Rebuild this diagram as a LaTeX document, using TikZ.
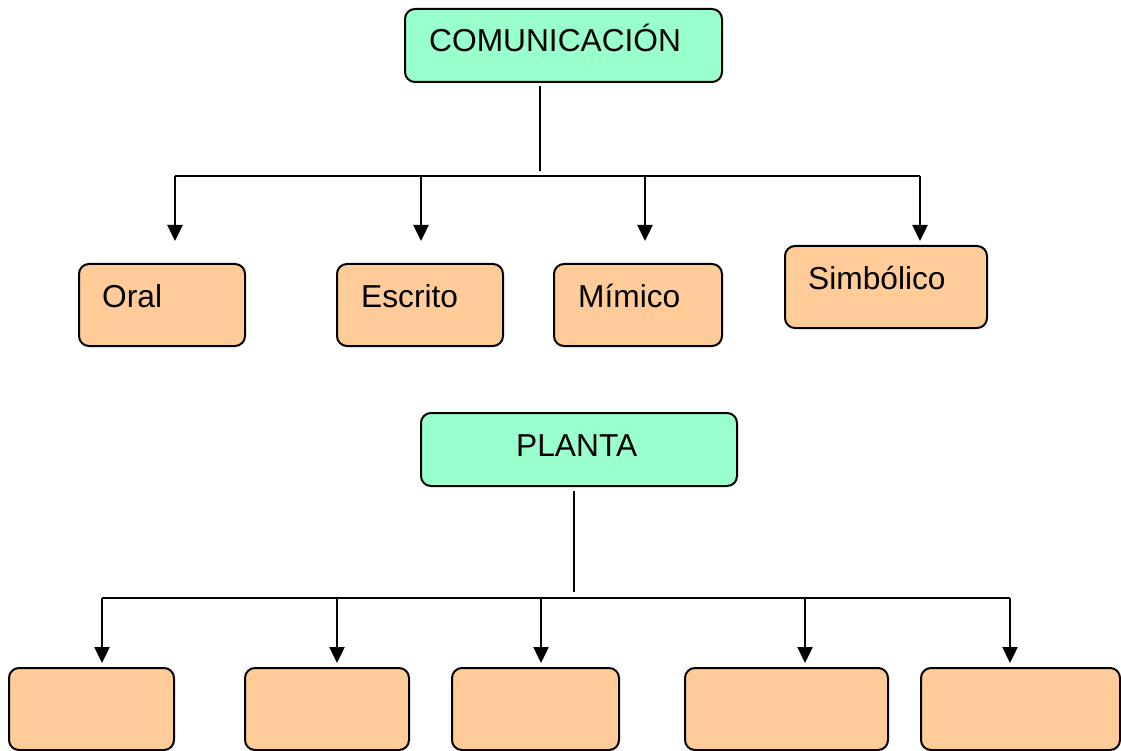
\documentclass[tikz,border=0pt]{standalone}
\usepackage{fontspec}
\setmainfont{Liberation Sans}
\usetikzlibrary{arrows.meta}
\definecolor{verde}{HTML}{99FFCC}
\definecolor{naranja}{HTML}{FFCC99}
\begin{document}
\begin{tikzpicture}[x=1pt,y=-1pt,
    raiz/.style={draw,line width=2pt,fill=verde,rounded corners=10pt,minimum height=73pt},
    hoja/.style={draw,line width=2pt,fill=naranja,rounded corners=10pt,minimum height=82pt},
    rotulo/.style={anchor=base west,inner sep=0pt,font=\fontsize{31.7}{36}\selectfont},
    tallo/.style={line width=1.6pt},
    barra/.style={line width=2.4pt},
    flecha/.style={line width=2.4pt,-{Triangle[width=15pt,length=16pt]}}]
  \useasboundingbox (0,0) rectangle (1121,751);
  % comunicacion
  \node[raiz,minimum width=317] (com) at (563.5,45.5) {};
  \node[rotulo] (t-com) at (429,52) {COMUNICACIÓN};
  \node[hoja,minimum width=166] (oral) at (162,305) {};
  \node[hoja,minimum width=166] (esc) at (420,305) {};
  \node[hoja,minimum width=168] (mim) at (638,305) {};
  \node[hoja,minimum width=202] (sim) at (886,287) {};
  \node[rotulo] (t-oral) at (102,307) {Oral};
  \node[rotulo] (t-esc) at (361,307) {Escrito};
  \node[rotulo] (t-mim) at (578,307) {Mímico};
  \node[rotulo] (t-sim) at (808,290) {Simbólico};
  \coordinate (com-a) at (540,86);
  \coordinate (com-b) at (540,171);
  \draw[tallo] (com-a) -- (com-b);
  \foreach \n/\x in {oral/175,esc/421,mim/645,sim/920}{
    \coordinate (r-\n) at (\x,176);
    \coordinate (p-\n) at (\x,241);
    \draw[flecha] (r-\n) -- (p-\n);
  }
  \draw[barra] (r-oral) -- (r-sim);
  % planta
  \node[raiz,minimum width=316] (planta) at (579,449.5) {};
  \node[rotulo] (t-planta) at (516,456) {PLANTA};
  \node[hoja,minimum width=165] (h1) at (91.5,709) {};
  \node[hoja,minimum width=164] (h2) at (327,709) {};
  \node[hoja,minimum width=167] (h3) at (535.5,709) {};
  \node[hoja,minimum width=203] (h4) at (786.5,709) {};
  \node[hoja,minimum width=199] (h5) at (1020.5,709) {};
  \coordinate (planta-a) at (574,491);
  \coordinate (planta-b) at (574,592);
  \draw[tallo] (planta-a) -- (planta-b);
  \foreach \n/\x in {h1/102,h2/337,h3/541,h4/805,h5/1010}{
    \coordinate (r-\n) at (\x,598);
    \coordinate (p-\n) at (\x,663);
    \draw[flecha] (r-\n) -- (p-\n);
  }
  \draw[barra] (r-h1) -- (r-h5);
\end{tikzpicture}
\end{document}
